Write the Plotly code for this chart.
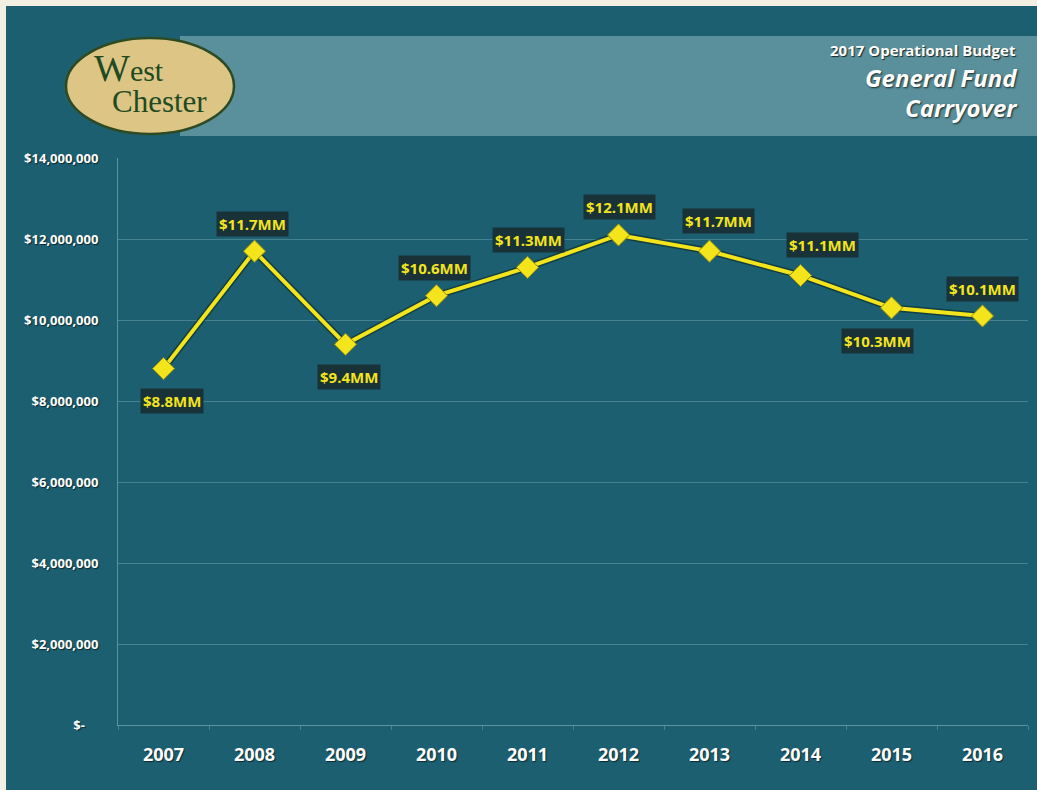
import plotly.graph_objects as go

# General Fund carryover by year (dollars)
years = ["2007", "2008", "2009", "2010", "2011", "2012", "2013", "2014", "2015", "2016"]
carryover = [8.8e6, 11.7e6, 9.4e6, 10.6e6, 11.3e6, 12.1e6, 11.7e6, 11.1e6, 10.3e6, 10.1e6]
point_labels = ["$8.8MM", "$11.7MM", "$9.4MM", "$10.6MM", "$11.3MM",
                "$12.1MM", "$11.7MM", "$11.1MM", "$10.3MM", "$10.1MM"]

# label offsets from each point, in screen pixels (x right, y up)
label_dx = [8, -2, 3, -2, 1, 1, 9, 22, -14, 0]
label_dy = [-32, 27, -33, 28, 27, 28, 30, 30, -33, 27]

y_tick_vals = [0, 2e6, 4e6, 6e6, 8e6, 10e6, 12e6, 14e6]
y_tick_text = ["$-&nbsp;&nbsp;&nbsp;&nbsp;", "$2,000,000", "$4,000,000", "$6,000,000",
               "$8,000,000", "$10,000,000", "$12,000,000", "$14,000,000"]

W, H = 1037, 790
ML, MR, MT, MB = 118, 9, 158, 65
PW, PH = W - ML - MR, H - MT - MB

TEAL = "#1c5f70"
BAND = "#5a909b"
YELLOW = "#f3e41c"
SANS = "Open Sans"


def px(xpix):
    return (xpix - ML) / PW


def py(ypix):
    return (H - MB - ypix) / PH


fig = go.Figure()

# dark edge under the line
fig.add_trace(go.Scatter(
    x=years, y=carryover, mode="lines",
    line=dict(color="rgba(10,35,35,0.55)", width=7),
    hoverinfo="skip", showlegend=False,
))
fig.add_trace(go.Scatter(
    x=years, y=carryover, mode="lines+markers",
    line=dict(color=YELLOW, width=4),
    marker=dict(symbol="diamond", size=17, color=YELLOW,
                line=dict(color="#8f8a10", width=1)),
    hoverinfo="skip", showlegend=False,
))

annotations = []
# category positions are given by index so year strings are not read as numbers
for i, (v, lab, dx, dy) in enumerate(zip(carryover, point_labels, label_dx, label_dy)):
    annotations.append(dict(
        x=i, y=v, xref="x", yref="y", text=lab, showarrow=False,
        xshift=dx, yshift=dy,
        font=dict(family=SANS, size=15, color=YELLOW, weight="bold"),
        bgcolor="#183238", borderpad=2,
    ))

# header titles
annotations += [
    dict(x=px(1018), y=py(50), xref="paper", yref="paper", xanchor="right", yanchor="middle",
         text="2017 Operational Budget", showarrow=False,
         font=dict(family=SANS, size=15, color="white", weight="bold",
                   shadow="1px 1px 1px #1a2a2a")),
    dict(x=px(1019), y=py(77), xref="paper", yref="paper", xanchor="right", yanchor="middle",
         text="<i>General Fund</i>", showarrow=False,
         font=dict(family=SANS, size=24, color="white", weight="bold",
                   shadow="1px 1px 2px #1a2a2a")),
    dict(x=px(1019), y=py(108), xref="paper", yref="paper", xanchor="right", yanchor="middle",
         text="<i>Carryover</i>", showarrow=False,
         font=dict(family=SANS, size=24, color="white", weight="bold",
                   shadow="1px 1px 2px #1a2a2a")),
    # logo wordmark
    dict(x=px(92), y=py(68), xref="paper", yref="paper", xanchor="left", yanchor="middle",
         text="<span style='font-size:38px'>W</span>est", showarrow=False,
         font=dict(family="Liberation Serif", size=30, color="#1f4a22")),
    dict(x=px(110), y=py(101), xref="paper", yref="paper", xanchor="left", yanchor="middle",
         text="Chester", showarrow=False,
         font=dict(family="Liberation Serif", size=31, color="#1f4a22")),
]

shapes = [
    # teal panel over the off-white page
    dict(type="rect", xref="paper", yref="paper", x0=px(6), x1=px(W + 5), y0=py(H + 5), y1=py(6),
         fillcolor=TEAL, line=dict(width=0), layer="below"),
    # lighter header band
    dict(type="rect", xref="paper", yref="paper", x0=px(180), x1=px(W + 5), y0=py(136), y1=py(36),
         fillcolor=BAND, line=dict(width=0), layer="below"),
    # logo oval
    dict(type="circle", xref="paper", yref="paper", x0=px(66), x1=px(234), y0=py(134), y1=py(38),
         fillcolor="#dcc585", line=dict(color="#2e4a22", width=2.5), layer="below"),
]

fig.update_layout(
    width=W, height=H,
    margin=dict(l=ML, r=MR, t=MT, b=MB, autoexpand=False),
    paper_bgcolor="#f1eee2",
    plot_bgcolor="rgba(0,0,0,0)",
    hovermode=False,
    showlegend=False,
    annotations=annotations,
    shapes=shapes,
)

fig.update_xaxes(
    type="category", range=[-0.5, len(years) - 0.5],
    showgrid=False, showline=True, linecolor="rgba(170,210,210,0.45)", linewidth=1,
    ticks="outside", tickson="boundaries", ticklen=4, tickcolor="rgba(170,210,210,0.3)",
    ticklabelstandoff=13,
    tickfont=dict(family=SANS, size=18, color="white", weight="bold",
                  shadow="1px 1px 1px #0e2a30"),
    zeroline=False, fixedrange=True,
)
fig.update_yaxes(
    range=[0, 14e6], tickvals=y_tick_vals, ticktext=y_tick_text,
    showgrid=True, gridcolor="rgba(150,195,200,0.35)", gridwidth=1,
    showline=True, linecolor="rgba(170,210,210,0.45)", linewidth=1,
    zeroline=False, ticks="", ticklabelstandoff=16,
    tickfont=dict(family=SANS, size=13, color="white", weight="bold",
                  shadow="1px 1px 1px #0e2a30"),
    fixedrange=True,
)

fig.write_html("out.html")
